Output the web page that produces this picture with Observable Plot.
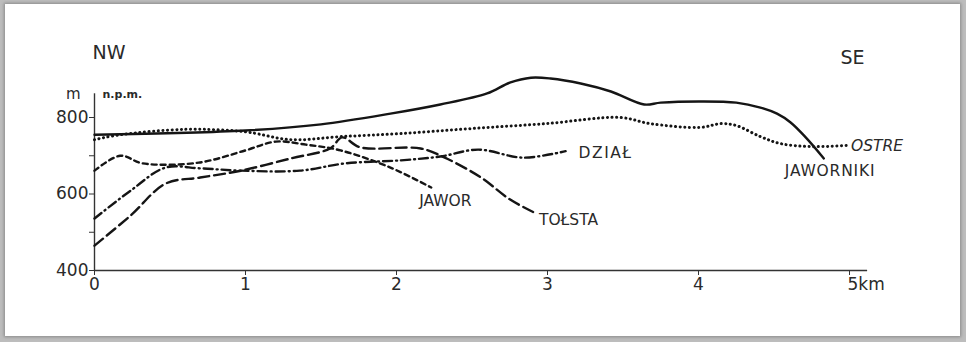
<!DOCTYPE html>
<html>
<head>
<meta charset="utf-8">
<script src="https://cdn.jsdelivr.net/npm/d3@7"></script>
<script src="https://cdn.jsdelivr.net/npm/@observablehq/plot@0.6"></script>
<style>
  html, body { margin: 0; padding: 0; }
  body { width: 966px; height: 342px; background: #bdbdbd; position: relative; overflow: hidden; }
  #paper { position: absolute; left: 5px; top: 4px; width: 955px; height: 332px; background: #fff;
           box-shadow: 0 0 3px 1px #8a8a8a; }
  #chart { position: absolute; left: 0; top: 0; }
</style>
</head>
<body>
<div id="paper"></div>
<div id="chart"></div>
<script>
// ---- data (km along profile, m a.s.l.) ----
const jawornikiKm = [0, 1.0, 1.5, 1.96, 2.29, 2.6, 2.75, 2.89, 3.02, 3.22, 3.42, 3.64, 3.75, 4.01, 4.25, 4.41, 4.52, 4.61, 4.71, 4.83];
const jawornikiM  = [755, 766, 782, 810, 834, 863, 891, 904, 902, 889, 868, 834, 839, 842, 839, 826, 810, 787, 748, 693];

const ostreKm = [0, 0.17, 0.6, 0.9, 1.03, 1.3, 1.63, 2.03, 2.49, 2.99, 3.48, 3.68, 4.01, 4.15, 4.25, 4.41, 4.54, 4.74, 4.99];
const ostreM  = [742, 755, 769, 766, 761, 742, 750, 758, 771, 784, 800, 784, 774, 784, 779, 750, 732, 724, 727];

const jaworKm = [0, 0.17, 0.32, 0.69, 1.0, 1.2, 1.4, 1.63, 1.96, 2.23];
const jaworM  = [661, 700, 680, 682, 714, 737, 729, 714, 669, 617];

const tolstaKm = [0, 0.24, 0.47, 0.7, 0.97, 1.3, 1.56, 1.64, 1.76, 2.16, 2.32, 2.56, 2.75, 2.91];
const tolstaM  = [465, 544, 627, 643, 661, 693, 719, 748, 722, 719, 695, 643, 586, 552];

const dzialKm = [0, 0.24, 0.47, 0.7, 0.97, 1.36, 1.66, 2.03, 2.29, 2.54, 2.84, 3.12];
const dzialM  = [536, 609, 669, 667, 661, 661, 680, 688, 698, 716, 695, 712];

const yTicks = [400, 500, 600, 700, 800];
const yTickLabels = ["400", "", "600", "", "800"];
const xTicks = [0, 1, 2, 3, 4, 5];
const xTickLabels = ["0", "1", "2", "3", "4", ""];

const seriesNames = ["JAWORNIKI", "OSTRE", "JAWOR", "TOŁSTA", "DZIAŁ"];

// ---- build tables ----
function rows(name, km, m) { return km.map((k, i) => ({name, km: k, m: m[i]})); }
const jaworniki = rows(seriesNames[0], jawornikiKm, jawornikiM);
const ostre = rows(seriesNames[1], ostreKm, ostreM);
const jawor = rows(seriesNames[2], jaworKm, jaworM);
const tolsta = rows(seriesNames[3], tolstaKm, tolstaM);
const dzial = rows(seriesNames[4], dzialKm, dzialM);
const last = a => [a[a.length - 1]];

const ink = "#151515";
const txt = "#2a2a2a";
const lineOpts = {x: "km", y: "m", stroke: ink, strokeWidth: 2.4, curve: "catmull-rom", strokeLinecap: "round", strokeLinejoin: "round"};

const chart = Plot.plot({
  width: 966,
  height: 342,
  marginLeft: 94,
  marginRight: 117,
  marginTop: 117,
  marginBottom: 72,
  style: {fontFamily: "DejaVu Sans, sans-serif", color: txt, background: "transparent", overflow: "visible"},
  x: {type: "linear", domain: [0, 5]},
  y: {type: "linear", domain: [400, 800]},
  marks: [
    // axes lines
    Plot.ruleY([400], {x1: 0, x2: 5.12, stroke: "#333", strokeWidth: 1.4}),
    Plot.ruleX([0], {y1: 400, y2: 862, stroke: "#333", strokeWidth: 1.4}),
    Plot.axisY({ticks: yTicks, tickFormat: d => yTickLabels[yTicks.indexOf(d)], tickSize: 5, tickPadding: 1,
                fontSize: 17, stroke: "#333", fill: txt, label: null}),
    Plot.axisX({ticks: xTicks, tickFormat: d => xTickLabels[xTicks.indexOf(d)], tickSize: 5, tickPadding: 2,
                fontSize: 17, stroke: "#333", fill: txt, label: null}),
    Plot.text(["5km"], {x: 5, y: 400, textAnchor: "start", dx: -2, dy: 14, fontSize: 17, fill: txt}),

    // profiles
    Plot.line(jaworniki, {...lineOpts}),
    Plot.line(ostre, {...lineOpts, strokeWidth: 3, strokeDasharray: "0.1,4.5"}),
    Plot.line(jawor, {...lineOpts, strokeDasharray: "5,4"}),
    Plot.line(tolsta, {...lineOpts, strokeDasharray: "11,5"}),
    Plot.line(dzial, {...lineOpts, strokeDasharray: "9,4,1,4"}),

    // series labels
    Plot.text(last(jaworniki), {x: "km", y: "m", text: "name", textAnchor: "start", dx: -39, dy: 13, fontSize: 15.5, fill: txt}),
    Plot.text(last(ostre), {x: "km", y: "m", text: "name", textAnchor: "start", dx: 3, dy: 1, fontSize: 15.5, fontStyle: "italic", fill: txt}),
    Plot.text(last(jawor), {x: "km", y: "m", text: "name", textAnchor: "start", dx: -12, dy: 14, fontSize: 15.5, fill: txt}),
    Plot.text(last(tolsta), {x: "km", y: "m", text: "name", textAnchor: "start", dx: 5, dy: 8, fontSize: 15.5, fill: txt}),
    Plot.text(last(dzial), {x: "km", y: "m", text: "name", textAnchor: "start", dx: 13, dy: 2, fontSize: 15.5, fill: txt}),

    // direction and unit labels
    Plot.text(["NW"], {x: 0, y: 970, textAnchor: "start", dx: -2, fontSize: 19, fill: txt}),
    Plot.text(["SE"], {x: 4.94, y: 957, textAnchor: "start", fontSize: 19, fill: txt}),
    Plot.text(["m"], {x: 0, y: 860, textAnchor: "end", dx: -14, fontSize: 15, fill: txt}),
    Plot.text(["n.p.m."], {x: 0, y: 860, textAnchor: "start", dx: 8, fontSize: 11, fontWeight: "bold", fill: txt})
  ]
});
chart.querySelectorAll("text").forEach(t => {
  if (t.textContent === "DZIAŁ") t.setAttribute("letter-spacing", "1.5");
  if (t.textContent === "JAWORNIKI") t.setAttribute("letter-spacing", "0.8");
});
document.getElementById("chart").appendChild(chart);
</script>
</body>
</html>
